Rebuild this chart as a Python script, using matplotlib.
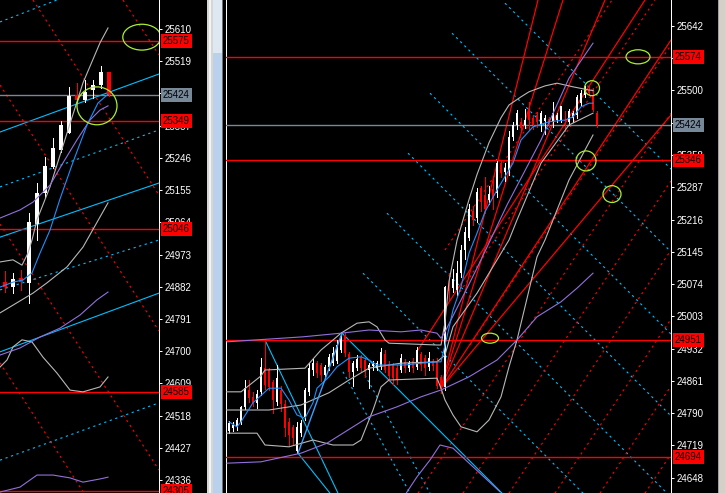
import numpy as np
import matplotlib
matplotlib.use("Agg")
import matplotlib.pyplot as plt
from matplotlib.patches import Ellipse, Rectangle

plt.rcParams['font.family'] = ['Liberation Sans', 'DejaVu Sans']
plt.rcParams['lines.scale_dashes'] = False

RED = '#ff0000'
CYAN = '#00bfff'
BLUE = '#1e90ff'
PURPLE = '#9370db'
SILVER = '#b8b8b8'
BIDGRAY = '#778899'
LIME = '#aaee33'
DOT = (0, (1.6, 2.6))
PX = 0.72   # one pixel at 100 dpi

# ---------------- left window (bigger bars) ----------------
l_open  = [24895, 24881, 24907, 24893, 25059, 25147, 25220, 25268, 25316, 25424, 25410, 25438, 25452, 25489]
l_high  = [24926, 24921, 24929, 25090, 25175, 25248, 25302, 25350, 25446, 25457, 25465, 25466, 25506, 25489]
l_low   = [24867, 24864, 24873, 24836, 25014, 25136, 25217, 25262, 25316, 25405, 25405, 25415, 25443, 25420]
l_close = [24881, 24904, 24895, 25065, 25147, 25223, 25274, 25339, 25421, 25410, 25432, 25452, 25489, 25424]

l_ticks = [25610, 25519, 25428, 25337, 25246, 25155, 25064, 24973, 24882,
           24791, 24700, 24609, 24518, 24427, 24336]
l_hidden = [25428]          # covered by the bid tag
l_levels = [25575, 25349, 25046, 24585, 24305]
l_bid = 25424

l_bbu_x = [-0.625, 1, 2.125, 2.875, 3.375, 4, 5.625, 7.75, 9.75, 11.875, 12.875]
l_bbu_y = [24952, 24958, 24943, 24977, 25014, 25071, 25164, 25316, 25458, 25571, 25613]
l_bbm_x = [-0.625, 1, 3.5, 5.25, 7.75, 9.75, 11.875, 12.875]
l_bbm_y = [24808, 24830, 24864, 24893, 24938, 24994, 25079, 25119]
l_bbl_x = [-0.625, 0.25, 1, 2.125, 3.375, 4.75, 6.5, 8.125, 9.75, 11.875, 12.875]
l_bbl_y = [24655, 24675, 24712, 24732, 24726, 24683, 24638, 24590, 24585, 24599, 24627]
l_ema_x = [-0.625, 1, 2.25, 3.375, 4.375, 5.625, 6.875, 8.5, 10.25, 11.625, 12.875]
l_ema_y = [24881, 24895, 24901, 24921, 24977, 25042, 25130, 25234, 25339, 25401, 25426]
l_pu_x = [-0.625, 1.875, 3.5, 5.625, 7.25, 9, 10.625, 11.875, 12.875]
l_pu_y = [25076, 25099, 25121, 25169, 25232, 25297, 25353, 25381, 25393]
l_pm_x = [-0.625, 1.875, 4.375, 6.875, 9.375, 11.5, 12.875]
l_pm_y = [24689, 24709, 24740, 24765, 24802, 24845, 24867]
l_pl_x = [-0.625, 1.875, 4, 6, 8.125, 9.75, 11.875, 12.875]
l_pl_y = [24302, 24316, 24350, 24350, 24342, 24330, 24339, 24344]

# channel lines (start bar, start price, end bar, end price)
l_cyan_solid = [(-0.625, 25319, 19.25, 25483), (-0.625, 25022, 19.25, 25175),
                (-0.625, 24698, 19.25, 24864)]
l_cyan_dot = [(-0.625, 25630, 6.5, 25692), (-0.625, 25164, 19.25, 25325),
              (-0.625, 24873, 19.25, 25014), (-0.625, 24392, 19.25, 24554)]
l_red_dot = [(14.75, 25692, 19.25, 25537), (3.5, 25692, 19.25, 25141),
             (-0.625, 25452, 19.25, 24757), (-0.625, 25059, 19.25, 24364),
             (-0.625, 24667, 9.875, 24299)]
l_marks = [(17.1, 25587, 4.75, 73), (11.5, 25393, 5.0, 107)]

# ---------------- right window ----------------
r_ohlc = [
    (24750, 24773, 24746, 24768), (24757, 24770, 24750, 24763), (24760, 24780, 24753, 24775),
    (24771, 24806, 24766, 24803), (24803, 24863, 24800, 24845), (24841, 24863, 24815, 24823),
    (24825, 24836, 24806, 24812), (24812, 24841, 24801, 24832), (24837, 24911, 24830, 24892),
    (24889, 24951, 24843, 24852), (24885, 24890, 24840, 24847), (24859, 24863, 24790, 24819),
    (24815, 24896, 24808, 24868), (24841, 24850, 24795, 24810), (24810, 24820, 24740, 24757),
    (24770, 24780, 24720, 24742), (24760, 24765, 24720, 24735), (24707, 24770, 24702, 24759),
    (24746, 24775, 24740, 24768), (24782, 24845, 24775, 24841), (24837, 24900, 24830, 24889),
    (24885, 24910, 24875, 24900), (24900, 24905, 24870, 24878), (24896, 24900, 24860, 24874),
    (24874, 24896, 24868, 24892), (24892, 24920, 24885, 24914), (24900, 24935, 24895, 24922),
    (24905, 24950, 24900, 24940), (24930, 24969, 24925, 24960), (24962, 24966, 24915, 24922),
    (24920, 24925, 24870, 24880), (24880, 24905, 24850, 24900), (24890, 24918, 24885, 24910),
    (24913, 24918, 24880, 24889), (24907, 24912, 24870, 24880), (24885, 24900, 24845, 24895),
    (24893, 24905, 24885, 24898), (24890, 24905, 24885, 24900), (24892, 24933, 24888, 24925),
    (24920, 24930, 24880, 24885), (24899, 24905, 24860, 24872), (24895, 24900, 24855, 24868),
    (24890, 24895, 24855, 24863), (24885, 24920, 24880, 24911), (24903, 24910, 24880, 24889),
    (24889, 24905, 24882, 24900), (24905, 24912, 24880, 24889), (24892, 24935, 24887, 24929),
    (24920, 24925, 24885, 24895), (24911, 24918, 24875, 24890), (24892, 24925, 24885, 24911),
    (24905, 24910, 24885, 24893), (24905, 24912, 24845, 24850), (24870, 24875, 24835, 24845),
    (24848, 25070, 24840, 25068), (25068, 25099, 25039, 25059), (25065, 25107, 25057, 25085),
    (25061, 25125, 25050, 25099), (25099, 25160, 25090, 25149), (25149, 25200, 25130, 25189),
    (25175, 25250, 25170, 25240), (25235, 25245, 25205, 25215), (25220, 25285, 25210, 25277),
    (25285, 25290, 25235, 25255), (25270, 25310, 25230, 25240), (25260, 25290, 25250, 25272),
    (25283, 25305, 25240, 25262), (25275, 25345, 25265, 25340), (25340, 25345, 25310, 25318),
    (25320, 25340, 25300, 25330), (25325, 25410, 25315, 25397), (25398, 25430, 25390, 25424),
    (25424, 25458, 25415, 25450), (25431, 25440, 25410, 25418), (25424, 25460, 25418, 25435),
    (25454, 25475, 25415, 25435), (25440, 25445, 25415, 25424), (25446, 25452, 25420, 25430),
    (25424, 25455, 25410, 25450), (25433, 25445, 25405, 25440), (25437, 25442, 25420, 25430),
    (25430, 25475, 25420, 25450), (25435, 25450, 25430, 25445), (25436, 25465, 25430, 25465),
    (25435, 25455, 25410, 25432), (25430, 25460, 25425, 25455), (25440, 25455, 25430, 25450),
    (25446, 25490, 25440, 25486), (25473, 25500, 25468, 25495), (25490, 25510, 25485, 25501),
    (25501, 25510, 25490, 25495), (25490, 25505, 25455, 25457), (25450, 25455, 25420, 25424),
]

r_ticks = [25642, 25571, 25500, 25429, 25358, 25287, 25216, 25145, 25074,
           25003, 24932, 24861, 24790, 24719, 24648]
r_hidden = [25571, 25429]   # covered by level tags
r_levels = [25574, 25346, 24951, 24694]
r_bid = 25424

r_bbu_x = [-1, 3, 8, 9, 19, 23, 26, 28, 32, 35, 37, 39, 40, 52, 53, 54, 55, 57, 60, 62,
           65, 68, 70, 73, 75, 79, 82, 86, 90, 91]
r_bbu_y = [24837, 24837, 24872, 24885, 24889, 24929, 24951, 24966, 24988, 24991, 24980,
           24951, 24944, 24940, 24940, 24990, 25080, 25170, 25260, 25315, 25385, 25440,
           25468, 25486, 25497, 25510, 25516, 25508, 25501, 25500]
r_bbm_x = [-1, 10, 18, 25, 30, 35, 43, 52, 54, 56, 62, 70, 72, 78, 85, 91]
r_bbm_y = [24797, 24797, 24808, 24835, 24863, 24889, 24900, 24903, 24918, 24980, 25054,
           25171, 25215, 25340, 25424, 25450]
r_bbl_x = [-1, 7, 9, 15, 21, 26, 31, 33, 36, 38, 40, 52, 53, 54, 56, 58, 62, 65, 68, 70,
           72, 74, 77, 79, 81, 85, 89, 91]
r_bbl_y = [24746, 24746, 24720, 24716, 24731, 24720, 24720, 24731, 24797, 24848, 24863,
           24867, 24845, 24819, 24786, 24760, 24749, 24775, 24826, 24892, 24951, 25024,
           25134, 25171, 25215, 25303, 25369, 25402]
r_ema_x = [0, 2, 3, 6, 10, 13, 15, 17, 19, 21, 22, 25, 27, 30, 33, 35, 37, 44, 48, 52, 53,
           54, 55, 56, 58, 60, 62, 64, 67, 71, 73, 76, 80, 84, 86, 88, 90, 91]
r_ema_y = [24771, 24760, 24771, 24813, 24845, 24845, 24819, 24786, 24779, 24813, 24845,
           24870, 24892, 24911, 24914, 24907, 24896, 24896, 24900, 24903, 24903, 24940,
           24977, 25017, 25068, 25142, 25186, 25233, 25281, 25340, 25391, 25420, 25431,
           25435, 25442, 25464, 25472, 25472]
r_pm_x = [-0.5, 8, 18, 24.5, 35, 42, 48, 53, 60, 67, 72, 77, 83, 87, 91]
r_pm_y = [24680, 24683, 24702, 24724, 24782, 24804, 24826, 24841, 24870, 24907, 24951,
          25002, 25035, 25065, 25098]
r_pu_x = [-0.5, 18.5, 28, 35, 43, 48, 52, 53, 54, 62, 69.5, 78, 85, 91]
r_pu_y = [24947, 24958, 24966, 24973, 24969, 24973, 24966, 24955, 24969, 25109, 25248,
          25391, 25527, 25604]
r_pl_x = [44, 47, 50.25, 52.75, 56, 61, 67.75]
r_pl_y = [24610, 24650, 24687, 24720, 24713, 24672, 24617]

r_zigzag = [(17.25, 24702, 28.25, 24966)]
r_fan_pivot = (53, 24845)
r_fan_ends = [(77.25, 25699), (83.5, 25699), (94, 25699), (110.5, 25611), (110.5, 25446)]
r_red_solid = [(47.25, 24929, 104, 25699)]
r_red_dot = [(54, 25149, 95.75, 25699), (57.75, 25057, 106.5, 25699),
             (60.25, 24940, 110.5, 25600), (47.25, 24614, 110.5, 25450),
             (58.5, 24614, 110.5, 25301), (70, 24614, 110.5, 25149),
             (81.5, 24614, 110.5, 24997), (92.75, 24614, 110.5, 24850),
             (104, 24614, 110.5, 24700)]
r_cyan_dot = [(69, 25692, 110.5, 25327), (55.75, 25626, 110.5, 25145),
              (50.25, 25494, 110.5, 24964), (44.75, 25362, 110.5, 24784),
              (39.5, 25230, 109.5, 24614), (33.5, 25098, 88.5, 24614),
              (28.5, 24881, 45.25, 24614), (34, 24874, 50.25, 24614)]
r_cyan_solid = [(28.25, 24966, 68.25, 24614), (9, 24951, 27.25, 24614),
                (17.25, 24702, 25.25, 24614)]
r_marks = [(102.25, 25574, 6.0, 31), (90.75, 25505, 3.75, 33), (89.25, 25345, 5.0, 44),
           (95.75, 25272, 4.5, 37), (65.25, 24955, 4.25, 22)]


def candles(ax, o, h, l, c, width, minh):
    o, h, l, c = map(np.asarray, (o, h, l, c))
    x = np.arange(len(o))
    cols = np.where(c >= o, 'white', RED)
    ax.vlines(x, l, h, colors=cols, lw=PX, zorder=4, antialiased=False)
    ax.bar(x, np.maximum(np.abs(c - o), minh), width, bottom=np.minimum(o, c),
           color=cols, linewidth=0, zorder=4)


def segs(ax, lines, color, ls='-', lw=0.8, z=2):
    for x0, y0, x1, y1 in lines:
        ax.plot([x0, x1], [y0, y1], color=color, ls=ls, lw=lw, zorder=z)


def tag(ax, price, fc):
    ax.annotate(str(price), xy=(1, price), xycoords=('axes fraction', 'data'),
                xytext=(4, 0), textcoords='offset pixels', ha='left', va='center',
                fontsize=7, color='black', zorder=20, annotation_clip=False,
                bbox=dict(boxstyle='square,pad=0.2', fc=fc, ec='none'))


def style(ax, xlim, ylim, ticks, hidden, left_spine):
    ax.set_facecolor('black')
    ax.set_xlim(*xlim)
    ax.set_ylim(*ylim)
    ax.set_xticks([])
    ax.yaxis.tick_right()
    ax.set_yticks(ticks)
    ax.set_yticklabels(['' if t in hidden else str(t) for t in ticks])
    ax.tick_params(axis='y', colors='white', length=2.5, width=PX, pad=1.2, labelsize=7)
    for s in ('top', 'bottom'):
        ax.spines[s].set_visible(False)
    ax.spines['right'].set_color('white')
    ax.spines['right'].set_linewidth(PX)
    ax.spines['left'].set_visible(left_spine)
    ax.spines['left'].set_color('white')
    ax.spines['left'].set_linewidth(PX)


def hline(ax, y, color):
    ax.axhline(y, color=color, lw=1.0, zorder=3)


fig = plt.figure(figsize=(7.25, 4.93), dpi=100, facecolor='black')
axl = fig.add_axes([0, 0, 159 / 725, 1])
axr = fig.add_axes([226 / 725, 0, 445 / 725, 1])

# ----- left -----
style(axl, (-0.625, 19.25), (24299.3, 25692), l_ticks, l_hidden, False)
segs(axl, l_red_dot, RED, DOT)
segs(axl, l_cyan_dot, CYAN, DOT)
segs(axl, l_cyan_solid, CYAN)
for lv in l_levels:
    hline(axl, lv, RED)
hline(axl, l_bid, BIDGRAY)
axl.plot(l_bbu_x, l_bbu_y, color=SILVER, lw=0.8, zorder=5)
axl.plot(l_bbm_x, l_bbm_y, color=SILVER, lw=0.8, zorder=5)
axl.plot(l_bbl_x, l_bbl_y, color=SILVER, lw=0.8, zorder=5)
axl.plot(l_pu_x, l_pu_y, color=PURPLE, lw=0.8, zorder=5)
axl.plot(l_pm_x, l_pm_y, color=PURPLE, lw=0.8, zorder=5)
axl.plot(l_pl_x, l_pl_y, color=PURPLE, lw=0.8, zorder=5)
axl.plot(l_ema_x, l_ema_y, color=BLUE, lw=0.8, zorder=5)
candles(axl, l_open, l_high, l_low, l_close, 0.62, 3)
for bx, by, w, h in l_marks:
    axl.add_patch(Ellipse((bx, by), w, h, fill=False, ec=LIME, lw=0.9, zorder=8))
for lv in l_levels:
    tag(axl, lv, RED)
tag(axl, l_bid, BIDGRAY)

# ----- right -----
r_open, r_high, r_low, r_close = zip(*r_ohlc)
style(axr, (-0.75, 110.5), (24614.4, 25699), r_ticks, r_hidden, True)
segs(axr, r_cyan_dot, CYAN, DOT)
segs(axr, r_red_dot, RED, DOT)
segs(axr, r_cyan_solid, CYAN)
px, py = r_fan_pivot
segs(axr, [(px, py, ex, ey) for ex, ey in r_fan_ends], RED, lw=0.9, z=3)
segs(axr, r_red_solid, RED, lw=0.9, z=3)
for lv in r_levels:
    hline(axr, lv, RED)
hline(axr, r_bid, BIDGRAY)
axr.plot(r_bbu_x, r_bbu_y, color=SILVER, lw=0.8, zorder=5)
axr.plot(r_bbm_x, r_bbm_y, color=SILVER, lw=0.8, zorder=5)
axr.plot(r_bbl_x, r_bbl_y, color=SILVER, lw=0.8, zorder=5)
axr.plot(r_pu_x, r_pu_y, color=PURPLE, lw=0.8, zorder=5)
axr.plot(r_pm_x, r_pm_y, color=PURPLE, lw=0.8, zorder=5)
axr.plot(r_pl_x, r_pl_y, color=PURPLE, lw=0.8, zorder=5)
axr.plot(r_ema_x, r_ema_y, color=BLUE, lw=0.8, zorder=5)
segs(axr, r_zigzag, '#3aa0ff', lw=1.0, z=5)
candles(axr, r_open, r_high, r_low, r_close, 0.6, 2.5)
for bx, by, w, h in r_marks:
    axr.add_patch(Ellipse((bx, by), w, h, fill=False, ec=LIME, lw=0.9, zorder=8))
for lv in r_levels:
    tag(axr, lv, RED)
tag(axr, r_bid, BIDGRAY)

# window frames / scrollbar between the two charts
W = 725.0
for x0, w, col in [(207, 6, '#d6d6d6'), (209, 2, '#f4f4f4'), (213, 9, '#b9d1ea'),
                   (222, 1.2, '#707070'), (718, 7, '#d4d0c8'), (718, 1, '#a0a0a0')]:
    fig.patches.append(Rectangle((x0 / W, 0), w / W, 1, transform=fig.transFigure,
                                 fc=col, ec='none', zorder=-1))
fig.patches.append(Rectangle((213 / W, 1 - 53 / 493.0), 9 / W, 53 / 493.0,
                             transform=fig.transFigure, fc='#dde8f3', ec='none', zorder=-1))

fig.savefig('out.png', dpi=100, facecolor='black')
